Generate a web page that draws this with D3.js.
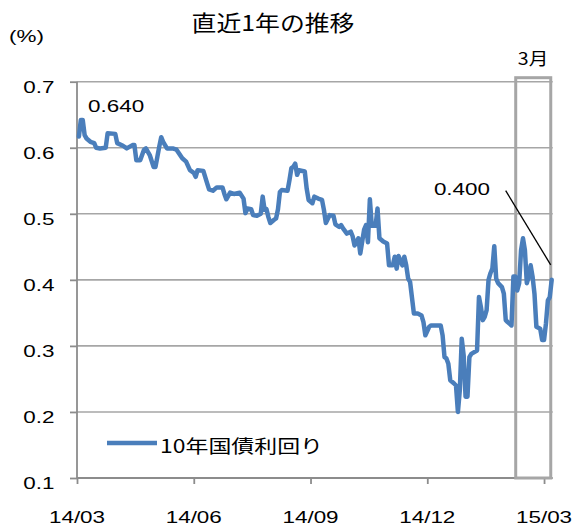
<!DOCTYPE html>
<html><head><meta charset="utf-8">
<script src="https://cdn.jsdelivr.net/npm/d3@7"></script>
<style>html,body{margin:0;padding:0;background:#fff}svg{display:block}</style>
</head><body>
<svg id="c" width="574" height="528"></svg>
<script>
// ---- data (trading-day index since start, yield %) ----
const days = [
  1,2,3,4,5,7,9,10,12,15,
  16,20,21,24,26,29,30,31,33,35,
  36,38,40,41,43,44,45,47,50,52,
  55,57,59,61,62,63,66,68,69,71,
  73,76,77,78,80,82,85,87,88,89,
  91,92,94,96,97,98,99,100,101,103,
  104,105,106,107,110,111,112,113,114,115,
  116,119,120,121,123,124,126,128,129,130,
  132,134,135,137,138,139,141,143,144,145,
  147,148,150,151,152,153,154,156,157,158,
  160,162,163,165,166,167,168,170,171,172,
  173,174,176,178,180,181,182,184,185,190,
  191,192,193,194,195,197,198,199,200,201,
  202,203,204,205,206,209,210,211,212,213,
  214,215,216,217,218,219,220,222,223,224,
  225,227,228,229,230,231,232,233,234,235,
  236,237,238,239,240,242,243,244,245,246,
  247,248
];
const yields = [
  0.617,0.642,0.642,0.619,0.614,0.609,0.607,0.600,0.599,0.600,
  0.622,0.621,0.607,0.603,0.599,0.604,0.604,0.581,0.581,0.597,
  0.599,0.589,0.571,0.571,0.602,0.616,0.609,0.599,0.599,0.597,
  0.584,0.579,0.566,0.562,0.556,0.566,0.565,0.546,0.537,0.535,
  0.540,0.540,0.530,0.522,0.532,0.530,0.532,0.523,0.501,0.508,
  0.507,0.498,0.497,0.500,0.526,0.506,0.507,0.495,0.486,0.491,
  0.493,0.507,0.533,0.536,0.535,0.551,0.569,0.571,0.576,0.559,
  0.566,0.564,0.538,0.521,0.516,0.526,0.523,0.521,0.506,0.486,
  0.498,0.497,0.484,0.480,0.483,0.478,0.470,0.473,0.466,0.452,
  0.463,0.440,0.476,0.483,0.457,0.522,0.482,0.482,0.508,0.463,
  0.458,0.455,0.422,0.422,0.435,0.417,0.436,0.422,0.435,0.422,
  0.402,0.397,0.349,0.349,0.346,0.336,0.316,0.329,0.331,0.331,
  0.316,0.283,0.281,0.273,0.248,0.243,0.240,0.200,0.233,0.311,
  0.286,0.223,0.223,0.283,0.288,0.293,0.374,0.359,0.339,0.344,
  0.354,0.400,0.410,0.417,0.451,0.402,0.395,0.389,0.379,0.339,
  0.336,0.331,0.405,0.405,0.384,0.395,0.445,0.463,0.445,0.395,
  0.405,0.422,0.405,0.379,0.329,0.326,0.309,0.309,0.334,0.369,
  0.374,0.400
];
const xTickDays = [0, 61, 122, 183, 244];
const xTickLabels = ["14/03", "14/06", "14/09", "14/12", "15/03"];
const yTicks = [0.1, 0.2, 0.3, 0.4, 0.5, 0.6, 0.7];
const marchSpan = [229.2, 247.5];       // highlighted March period (day index)
const seriesName = "10年国債利回り";
const titleText = "直近1年の推移";
const unitText = "(%)";
const marchText = "3月";
const startLabel = "0.640";
const endLabel = "0.400";

// ---- layout ----
const L = 77, R = 551.7, T = 81.7, B = 478;
const x = d3.scaleLinear().domain([0, 248]).range([L, R]);
const y = d3.scaleLinear().domain([0.1, 0.7]).range([B, T]);
const svg = d3.select("#c");
const LAT = "'Liberation Sans', Arial, sans-serif";
const CJK = "'Noto Sans CJK JP', 'Noto Sans', sans-serif";
const FS = 17, SX = 1.32;

function txt(px, py, s, size, anchor, sx, fam, fill) {
  return svg.append("text")
    .attr("transform", `translate(${px},${py}) scale(${sx},1)`)
    .attr("text-anchor", anchor)
    .attr("font-family", fam)
    .attr("font-size", size)
    .attr("fill", fill || "#000")
    .text(s);
}

// gridlines
svg.append("g").selectAll("line").data(yTicks.filter(v => v > 0.1)).join("line")
  .attr("x1", L).attr("x2", R + 1)
  .attr("y1", d => y(d)).attr("y2", d => y(d))
  .attr("stroke", "#a6a6a6").attr("stroke-width", 1.6);

// axes
const yAxis = d3.axisLeft(y).tickValues(yTicks).tickSize(7).tickFormat("");
const gy = svg.append("g").attr("transform", `translate(${L},0)`).call(yAxis);
const xAxis = d3.axisBottom(x).tickValues(xTickDays).tickSize(6).tickFormat("");
const gx = svg.append("g").attr("transform", `translate(0,${B})`).call(xAxis);
[gy, gx].forEach(g => {
  g.selectAll("path").attr("stroke", "#8c8c8c").attr("stroke-width", 1.8);
  g.selectAll("line").attr("stroke", "#8c8c8c").attr("stroke-width", 1.8);
});
gx.select("path.domain").attr("d", `M${L},0H${R + 1}`);
gy.select("path.domain").attr("d", `M0,${T}V${B}`);

yTicks.forEach(v => txt(54.5, y(v) + 10.8, d3.format(".1f")(v), FS, "end", SX, LAT));
xTickDays.forEach((d, i) => txt(x(d), 522.5, xTickLabels[i], FS, "middle", SX, LAT));

// March highlight box
svg.append("rect")
  .attr("x", x(marchSpan[0])).attr("y", T - 4)
  .attr("width", x(marchSpan[1]) - x(marchSpan[0]))
  .attr("height", B - (T - 4))
  .attr("fill", "none").attr("stroke", "#a6a6a6").attr("stroke-width", 3);

// series line
const line = d3.line().x((d, i) => x(days[i])).y(d => y(d));
svg.append("path").datum(yields)
  .attr("d", line)
  .attr("fill", "none").attr("stroke", "#4a7ebb")
  .attr("stroke-width", 4.5).attr("stroke-linejoin", "round").attr("stroke-linecap", "round");

// annotations
txt(88, 111.8, startLabel, FS, "start", SX, LAT);
txt(490, 195.2, endLabel, FS, "end", SX, LAT);
svg.append("line")
  .attr("x1", 505.7).attr("y1", 190.7)
  .attr("x2", x(days[days.length - 1]) - 1).attr("y2", y(yields[yields.length - 1]) - 15)
  .attr("stroke", "#000").attr("stroke-width", 1.3);

// titles
txt(273, 31, titleText, 22, "middle", 1.13, CJK);
txt(9, 41.5, unitText, FS, "start", SX, LAT);
txt(533, 65, marchText, 17.5, "middle", 1.12, CJK);

// legend
svg.append("line").attr("x1", 107).attr("x2", 157).attr("y1", 443).attr("y2", 443)
  .attr("stroke", "#4a7ebb").attr("stroke-width", 4.5);
txt(160, 452.5, seriesName, 18.5, "start", 1.24, CJK);
</script>
</body></html>
